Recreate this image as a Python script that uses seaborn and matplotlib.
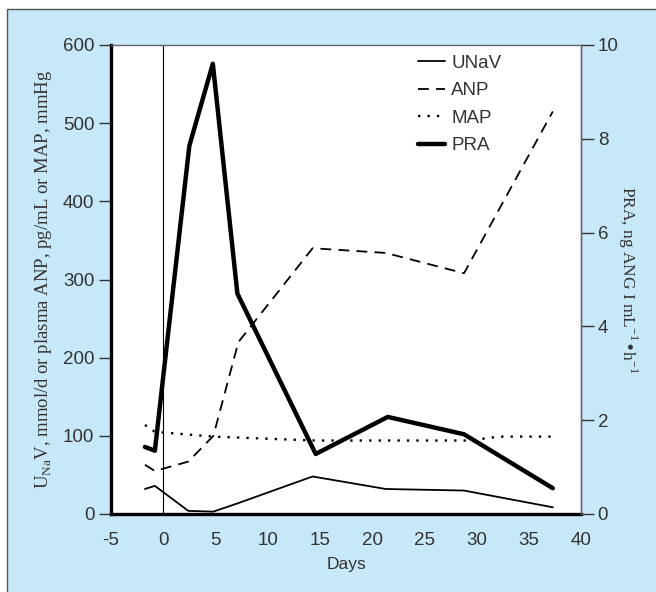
import matplotlib
matplotlib.use('Agg')
import matplotlib.pyplot as plt
from matplotlib.patches import Rectangle
import seaborn as sns
import pandas as pd

# datos
dias = [-1.75, -0.8, 2.4, 4.8, 7.2, 14.3, 21.3, 28.8, 37.3]
unav = [32, 36, 4, 3, 14, 48, 32, 30, 8.6]
anp = [63, 55, 67, 100, 220, 340, 334, 308, 515]
map_dias = [-1.75, -0.8, 0.3, 4.8, 14.5, 21.3, 29.2, 32.2, 37.3]
map_val = [114, 105, 104, 99, 94, 94, 94, 99, 99]
pra_dias = [-1.75, -0.8, 2.5, 4.75, 7.1, 14.6, 21.5, 28.8, 37.3]
pra = [1.43, 1.35, 7.85, 9.6, 4.7, 1.28, 2.07, 1.70, 0.55]

xticks = list(range(-5, 41, 5))
yticks_esq = list(range(0, 601, 100))
yticks_dir = list(range(0, 11, 2))

df = pd.DataFrame({'Dia': dias, 'UNaV': unav, 'ANP': anp})
dfm = pd.DataFrame({'Dia': map_dias, 'MAP': map_val})
dfp = pd.DataFrame({'Dia': pra_dias, 'PRA': pra})

sns.set_style('white')
plt.rcParams['font.family'] = ['Liberation Sans Narrow', 'Liberation Sans', 'DejaVu Sans']
plt.rcParams['axes.unicode_minus'] = False
cinza = '#333333'
azul = '#C7E8F8'

fig = plt.figure(figsize=(6.56, 5.92), dpi=100)
fig.patch.set_facecolor('white')
# painel azul com borda (so topo e esquerda visiveis)
fig.patches.append(Rectangle((7/656, -0.05), 1.1, 1.05 - 9/592, transform=fig.transFigure,
                             facecolor=azul, edgecolor='#555555', linewidth=1.0, zorder=-10))

ax = fig.add_axes([111/656, 1 - 514/592, 470/656, 469/592])
ax.set_facecolor('white')

sns.lineplot(data=df, x='Dia', y='UNaV', ax=ax, color='black', linewidth=1.3, label='UNaV')
sns.lineplot(data=df, x='Dia', y='ANP', ax=ax, color='black', linewidth=1.3,
             linestyle=(0, (6, 4)), label='ANP')
sns.lineplot(data=dfm, x='Dia', y='MAP', ax=ax, color='black', linewidth=1.7,
             linestyle=(0, (1, 3)), label='MAP')
ax.plot([], [], color='black', linewidth=3.2, label='PRA')
ax.axvline(0, color='black', linewidth=0.8)

ax.set_xlim(-5, 40)
ax.set_ylim(0, 600)
ax.set_xticks(xticks)
ax.set_yticks(yticks_esq)
ax.tick_params(axis='both', direction='out', length=9, width=1.0, color=cinza,
               labelcolor=cinza, labelsize=13.5, pad=3)
ax.tick_params(axis='x', length=10)
ax.set_xlabel('Days', fontsize=12.5, color=cinza, labelpad=6)
ax.set_ylabel(r'U$_{\mathregular{Na}}$V, mmol/d or plasma ANP, pg/mL or MAP, mmHg',
              fontsize=13.5, color=cinza, family='Liberation Serif', labelpad=6)

for lado in ['left', 'bottom']:
    ax.spines[lado].set_linewidth(2.4)
    ax.spines[lado].set_color('black')
for lado in ['top', 'right']:
    ax.spines[lado].set_linewidth(1.0)
    ax.spines[lado].set_color('#666666')

leg = ax.legend(loc='upper right', bbox_to_anchor=(0.866, 1.015), frameon=False,
                fontsize=13.5, handlelength=1.45, handletextpad=0.3, labelspacing=0.55)
for t in leg.get_texts():
    t.set_color(cinza)

ax2 = ax.twinx()
sns.lineplot(data=dfp, x='Dia', y='PRA', ax=ax2, color='black', linewidth=3.2,
             legend=False)
ax2.set_ylim(0, 10)
ax2.set_yticks(yticks_dir)
ax2.tick_params(axis='y', direction='out', length=9, width=1.0, color=cinza,
                labelcolor=cinza, labelsize=13.5, pad=3)
ax2.set_ylabel(r'PRA, ng ANG I mL$^{\mathregular{-1}}$•h$^{\mathregular{-1}}$',
               fontsize=12.5, color=cinza, family='Liberation Serif',
               rotation=270, labelpad=15)
for lado in ['left', 'bottom']:
    ax2.spines[lado].set_visible(False)
ax2.spines['right'].set_color('#666666')
ax2.spines['right'].set_linewidth(1.0)
ax2.spines['top'].set_visible(False)

fig.savefig('out.png', dpi=100)
